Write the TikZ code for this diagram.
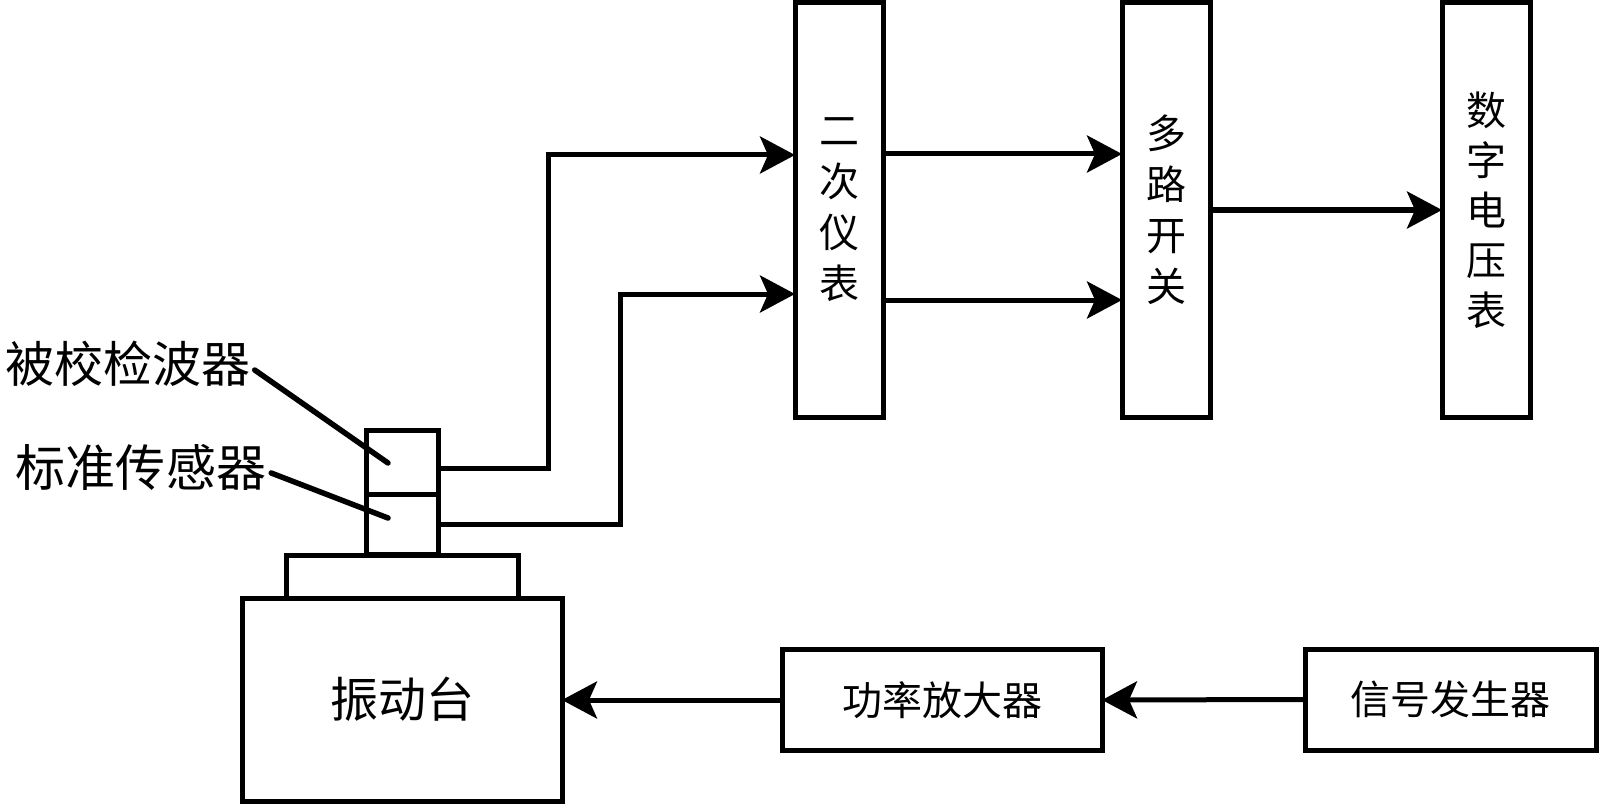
\documentclass[tikz,border=0pt]{standalone}
\usepackage{fontspec}
\setmainfont{Noto Sans CJK SC}
\usetikzlibrary{arrows.meta}
\begin{document}
\begin{tikzpicture}[x=1pt,y=-1pt,
  box/.style={draw, rectangle, line width=5pt, inner sep=0pt, outer sep=0pt},
  tall/.style={box, minimum width=88pt, minimum height=414pt, align=center, font=\fontsize{40}{51}\selectfont},
  wide/.style={box, minimum height=101pt, font=\fontsize{40}{48}\selectfont},
  arr/.style={line width=5pt, -{Stealth[length=35pt,width=37pt,inset=8pt]}},
  lead/.style={line width=5.5pt, line cap=round},
  lab/.style={inner sep=0pt, font=\fontsize{49}{55}\selectfont}]
\useasboundingbox (0,0) rectangle (1600,805);
% top column boxes
\node[tall] (erci) at (839,210) {二\\次\\仪\\表};
\node[tall] (duolu) at (1166,210) {多\\路\\开\\关};
\node[tall, font=\fontsize{40}{50}\selectfont] (shuzi) at (1486,210) {数\\字\\电\\压\\表};
% sensor stack and shaker
\node[box, minimum width=72pt, minimum height=64pt] (up) at (402,462) {};
\node[box, minimum width=72pt, minimum height=60pt] (low) at (402,524) {};
\node[box, minimum width=232pt, minimum height=43pt] (plat) at (402,576.5) {};
\node[box, minimum width=320pt, minimum height=203pt, font=\fontsize{48}{52}\selectfont] (zdt) at (402,699.5) {振动台};
% bottom boxes
\node[wide, minimum width=320pt] (gl) at (942,700) {功率放大器};
\node[wide, minimum width=291pt] (xh) at (1450.5,699.5) {信号发生器};
% labels
\node[lab] (l1) at (128,364) {被校检波器};
\node[lab, font=\fontsize{50}{55}\selectfont] (l2) at (141,467) {标准传感器};
% connectors
\coordinate (c1) at (548,155);
\coordinate (c2) at (620,294);
\draw[arr] ([yshift=-6pt]up.east) -| (c1) -- (erci.west |- c1);
\draw[arr] (low.east) -| (c2) -- (erci.west |- c2);
\draw[arr] (erci.east |- 0,154) -- (duolu.west |- 0,154);
\draw[arr] (erci.east |- 0,300) -- (duolu.west |- 0,300);
\draw[arr] (duolu.east) -- (shuzi.west);
\draw[arr] (xh.west) -- (gl.east);
\draw[arr] (gl.west) -- (zdt.east |- gl.west);
% leader lines
\coordinate (p1) at (388,463);
\coordinate (p2) at (388,518);
\draw[lead] ([shift={(4pt,-6pt)}]l1.east) -- (p1);
\draw[lead] ([shift={(5pt,-6pt)}]l2.east) -- (p2);
\end{tikzpicture}
\end{document}
